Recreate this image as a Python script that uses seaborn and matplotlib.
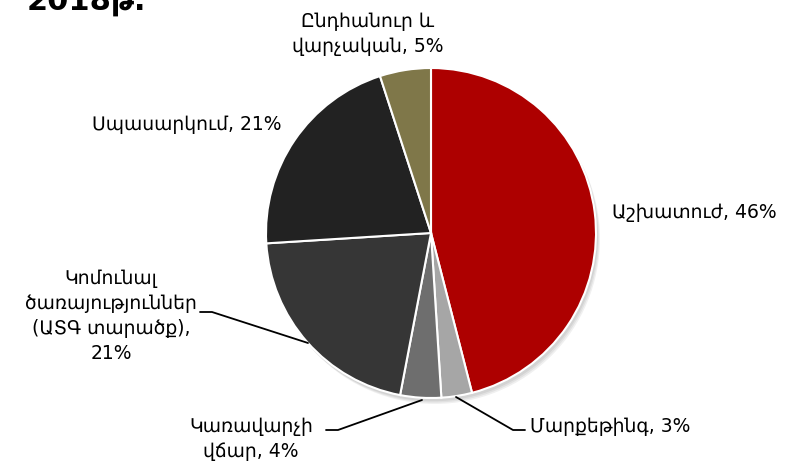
import numpy as np
import matplotlib
matplotlib.use("Agg")
import matplotlib.pyplot as plt
import matplotlib.patches as mpatches
import seaborn as sns

# data
categories = ["Աշխատուժ", "Մարքեթինգ", "Կառավարչի\nվճար",
              "Կոմունալ\nծառայություններ\n(ԱՏԳ տարածք),", "Սպասարկում",
              "Ընդհանուր և\nվարչական"]
shares = [46, 3, 4, 21, 21, 5]
colors = ["#AD0000", "#A6A6A6", "#6E6E6E", "#363636", "#222222", "#7F7749"]
title = "2018թ."

sns.set_theme(style="white")
plt.rcParams['font.family'] = ['DejaVu Sans']
plt.rcParams['text.color'] = 'black'

W, H = 791, 463
cx, cy, R = 431, 230, 165   # pie centre (from bottom) and radius, pixels

fig = plt.figure(figsize=(W / 100, H / 100), dpi=100)
ax = fig.add_axes([0, 0, 1, 1])

def px(x, y):
    # pixel coords measured from top-left -> data coords
    return (x - cx) / R, (H - y - cy) / R

# soft shadow
for i in range(3):
    ax.add_patch(mpatches.Circle((0.012 + 0.006 * i, -0.02 - 0.008 * i), 1.0,
                                 color="black", alpha=0.06, lw=0, zorder=0))

ax.pie(shares, colors=colors, startangle=90, counterclock=False, radius=1.0,
       wedgeprops=dict(edgecolor="white", linewidth=1.5), frame=True)
ax.set_xlim(-cx / R, (W - cx) / R)
ax.set_ylim(-cy / R, (H - cy) / R)
ax.set_aspect("auto")
ax.axis("off")

fs = 13.5
ls = 1.42
labels = [f"{c}, {s}%" if not c.endswith(",") else f"{c}\n{s}%"
          for c, s in zip(categories, shares)]

ax.text(*px(612, 213), labels[0], ha="left", va="center", fontsize=fs)
ax.text(*px(530, 426), labels[1], ha="left", va="center", fontsize=fs)
ax.text(*px(251, 439), labels[2], ha="center", va="center", fontsize=fs,
        linespacing=ls)
ax.text(*px(111, 316), labels[3], ha="center", va="center", fontsize=fs,
        linespacing=ls)
ax.text(*px(187, 125), labels[4], ha="center", va="center", fontsize=fs)
ax.text(*px(368, 34), labels[5], ha="center", va="center", fontsize=fs,
        linespacing=ls)

# leader lines
lines = [
    [(456, 397), (513, 430), (525, 430)],
    [(422, 400), (338, 430), (326, 430)],
    [(308, 343), (212, 312), (200, 312)],
]
for pts in lines:
    xs, ys = zip(*[px(x, y) for x, y in pts])
    ax.plot(xs, ys, color="black", lw=1.3, zorder=5)

fig.text(27 / W, 1 - 10 / H, title, ha="left", va="baseline",
         fontsize=22, fontweight="bold")

fig.savefig("out.png", dpi=100)
